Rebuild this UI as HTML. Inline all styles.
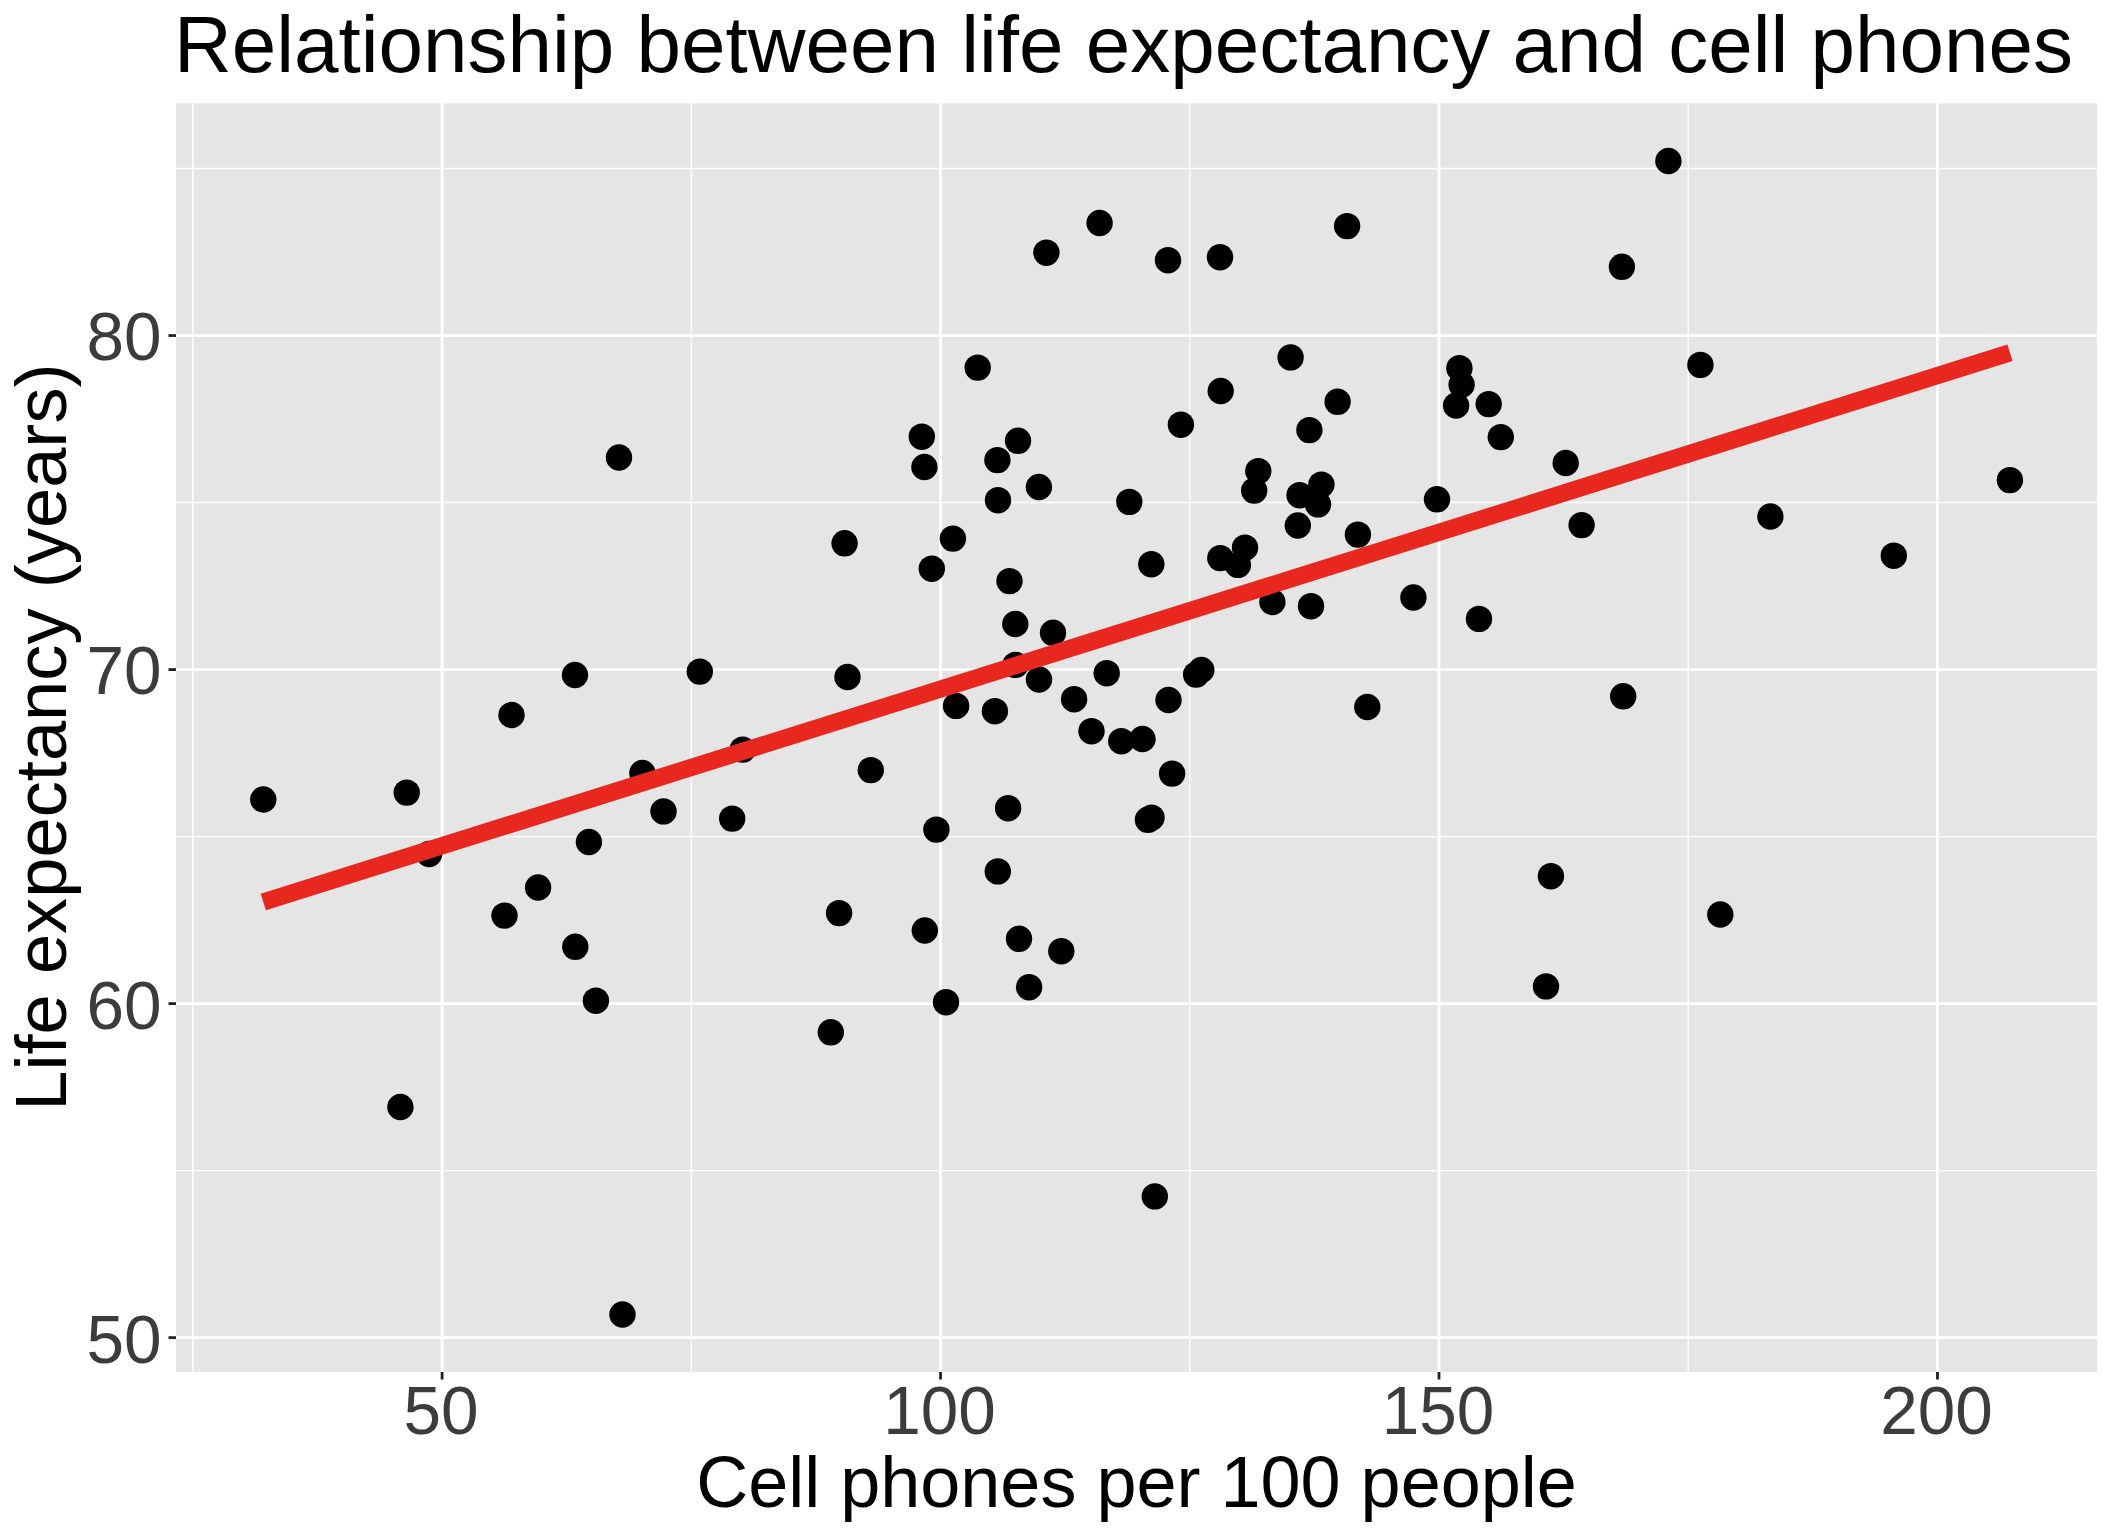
<!DOCTYPE html>
<html><head><meta charset="utf-8"><title>Relationship between life expectancy and cell phones</title>
<style>
html,body{margin:0;padding:0;background:#fff;}
body{width:2112px;height:1536px;overflow:hidden;}
svg{display:block;font-family:'Liberation Sans', Arial, Helvetica, sans-serif;}
</style></head>
<body>
<svg width="2112" height="1536" viewBox="0 0 2112 1536">
<rect width="2112" height="1536" fill="#fff"/>
<rect x="176.0" y="103.3" width="1921.00" height="1268.70" fill="#E5E5E5"/>
<line x1="192.88" y1="103.3" x2="192.88" y2="1372.0" stroke="#fff" stroke-width="1.4"/>
<line x1="691.33" y1="103.3" x2="691.33" y2="1372.0" stroke="#fff" stroke-width="1.4"/>
<line x1="1189.78" y1="103.3" x2="1189.78" y2="1372.0" stroke="#fff" stroke-width="1.4"/>
<line x1="1688.22" y1="103.3" x2="1688.22" y2="1372.0" stroke="#fff" stroke-width="1.4"/>
<line x1="176.0" y1="1170.62" x2="2097.0" y2="1170.62" stroke="#fff" stroke-width="1.4"/>
<line x1="176.0" y1="836.60" x2="2097.0" y2="836.60" stroke="#fff" stroke-width="1.4"/>
<line x1="176.0" y1="502.56" x2="2097.0" y2="502.56" stroke="#fff" stroke-width="1.4"/>
<line x1="176.0" y1="168.54" x2="2097.0" y2="168.54" stroke="#fff" stroke-width="1.4"/>
<line x1="442.10" y1="103.3" x2="442.10" y2="1372.0" stroke="#fff" stroke-width="2.8"/>
<line x1="940.55" y1="103.3" x2="940.55" y2="1372.0" stroke="#fff" stroke-width="2.8"/>
<line x1="1439.00" y1="103.3" x2="1439.00" y2="1372.0" stroke="#fff" stroke-width="2.8"/>
<line x1="1937.45" y1="103.3" x2="1937.45" y2="1372.0" stroke="#fff" stroke-width="2.8"/>
<line x1="176.0" y1="1337.64" x2="2097.0" y2="1337.64" stroke="#fff" stroke-width="2.8"/>
<line x1="176.0" y1="1003.61" x2="2097.0" y2="1003.61" stroke="#fff" stroke-width="2.8"/>
<line x1="176.0" y1="669.58" x2="2097.0" y2="669.58" stroke="#fff" stroke-width="2.8"/>
<line x1="176.0" y1="335.55" x2="2097.0" y2="335.55" stroke="#fff" stroke-width="2.8"/>
<g fill="#000">
<circle cx="263.3" cy="799.5" r="13.2"/>
<circle cx="400.4" cy="1107.0" r="13.2"/>
<circle cx="406.7" cy="792.6" r="13.2"/>
<circle cx="429.1" cy="854.0" r="13.2"/>
<circle cx="504.5" cy="915.6" r="13.2"/>
<circle cx="511.5" cy="715.0" r="13.2"/>
<circle cx="538.1" cy="887.5" r="13.2"/>
<circle cx="575.0" cy="675.0" r="13.2"/>
<circle cx="575.3" cy="946.8" r="13.2"/>
<circle cx="588.9" cy="842.0" r="13.2"/>
<circle cx="595.9" cy="1000.7" r="13.2"/>
<circle cx="619.0" cy="457.5" r="13.2"/>
<circle cx="622.5" cy="1314.5" r="13.2"/>
<circle cx="642.4" cy="773.0" r="13.2"/>
<circle cx="663.5" cy="811.4" r="13.2"/>
<circle cx="699.8" cy="671.6" r="13.2"/>
<circle cx="732.2" cy="818.6" r="13.2"/>
<circle cx="742.7" cy="749.6" r="13.2"/>
<circle cx="830.8" cy="1032.3" r="13.2"/>
<circle cx="839.1" cy="913.1" r="13.2"/>
<circle cx="844.6" cy="543.3" r="13.2"/>
<circle cx="847.5" cy="677.0" r="13.2"/>
<circle cx="870.8" cy="770.1" r="13.2"/>
<circle cx="921.8" cy="436.7" r="13.2"/>
<circle cx="924.4" cy="467.0" r="13.2"/>
<circle cx="924.8" cy="930.5" r="13.2"/>
<circle cx="931.8" cy="568.7" r="13.2"/>
<circle cx="936.4" cy="829.6" r="13.2"/>
<circle cx="946.0" cy="1002.2" r="13.2"/>
<circle cx="952.9" cy="538.6" r="13.2"/>
<circle cx="956.1" cy="705.9" r="13.2"/>
<circle cx="977.7" cy="367.6" r="13.2"/>
<circle cx="994.9" cy="711.2" r="13.2"/>
<circle cx="997.4" cy="460.1" r="13.2"/>
<circle cx="997.8" cy="871.4" r="13.2"/>
<circle cx="998.0" cy="500.2" r="13.2"/>
<circle cx="1008.1" cy="808.2" r="13.2"/>
<circle cx="1009.5" cy="581.1" r="13.2"/>
<circle cx="1015.3" cy="624.0" r="13.2"/>
<circle cx="1015.5" cy="664.9" r="13.2"/>
<circle cx="1018.0" cy="440.8" r="13.2"/>
<circle cx="1019.0" cy="938.8" r="13.2"/>
<circle cx="1029.1" cy="987.2" r="13.2"/>
<circle cx="1038.9" cy="487.0" r="13.2"/>
<circle cx="1039.0" cy="679.5" r="13.2"/>
<circle cx="1046.4" cy="252.7" r="13.2"/>
<circle cx="1053.0" cy="632.8" r="13.2"/>
<circle cx="1061.3" cy="951.2" r="13.2"/>
<circle cx="1074.1" cy="699.2" r="13.2"/>
<circle cx="1091.5" cy="731.2" r="13.2"/>
<circle cx="1099.6" cy="223.0" r="13.2"/>
<circle cx="1106.7" cy="673.2" r="13.2"/>
<circle cx="1121.3" cy="741.2" r="13.2"/>
<circle cx="1129.3" cy="501.9" r="13.2"/>
<circle cx="1142.5" cy="739.0" r="13.2"/>
<circle cx="1147.9" cy="819.8" r="13.2"/>
<circle cx="1151.3" cy="564.2" r="13.2"/>
<circle cx="1151.5" cy="817.6" r="13.2"/>
<circle cx="1154.8" cy="1196.4" r="13.2"/>
<circle cx="1168.0" cy="260.2" r="13.2"/>
<circle cx="1168.5" cy="700.0" r="13.2"/>
<circle cx="1172.1" cy="773.6" r="13.2"/>
<circle cx="1180.9" cy="424.7" r="13.2"/>
<circle cx="1196.1" cy="674.6" r="13.2"/>
<circle cx="1201.3" cy="670.0" r="13.2"/>
<circle cx="1220.0" cy="257.2" r="13.2"/>
<circle cx="1220.7" cy="391.0" r="13.2"/>
<circle cx="1220.3" cy="558.1" r="13.2"/>
<circle cx="1237.9" cy="564.9" r="13.2"/>
<circle cx="1245.0" cy="547.7" r="13.2"/>
<circle cx="1254.2" cy="490.6" r="13.2"/>
<circle cx="1258.3" cy="471.1" r="13.2"/>
<circle cx="1272.4" cy="602.0" r="13.2"/>
<circle cx="1290.6" cy="357.4" r="13.2"/>
<circle cx="1297.8" cy="525.5" r="13.2"/>
<circle cx="1299.6" cy="495.2" r="13.2"/>
<circle cx="1309.4" cy="430.1" r="13.2"/>
<circle cx="1311.0" cy="606.2" r="13.2"/>
<circle cx="1318.0" cy="504.4" r="13.2"/>
<circle cx="1321.4" cy="484.6" r="13.2"/>
<circle cx="1337.6" cy="401.8" r="13.2"/>
<circle cx="1347.1" cy="226.1" r="13.2"/>
<circle cx="1357.9" cy="534.6" r="13.2"/>
<circle cx="1367.3" cy="707.0" r="13.2"/>
<circle cx="1413.4" cy="597.5" r="13.2"/>
<circle cx="1437.0" cy="499.3" r="13.2"/>
<circle cx="1456.1" cy="405.5" r="13.2"/>
<circle cx="1459.4" cy="368.2" r="13.2"/>
<circle cx="1461.6" cy="384.7" r="13.2"/>
<circle cx="1479.0" cy="618.9" r="13.2"/>
<circle cx="1488.7" cy="404.1" r="13.2"/>
<circle cx="1500.8" cy="437.1" r="13.2"/>
<circle cx="1546.0" cy="986.4" r="13.2"/>
<circle cx="1550.9" cy="876.2" r="13.2"/>
<circle cx="1565.7" cy="463.0" r="13.2"/>
<circle cx="1581.6" cy="525.1" r="13.2"/>
<circle cx="1621.9" cy="266.8" r="13.2"/>
<circle cx="1623.2" cy="696.3" r="13.2"/>
<circle cx="1668.4" cy="161.0" r="13.2"/>
<circle cx="1700.4" cy="364.9" r="13.2"/>
<circle cx="1720.3" cy="914.5" r="13.2"/>
<circle cx="1770.4" cy="516.5" r="13.2"/>
<circle cx="1893.8" cy="555.7" r="13.2"/>
<circle cx="2009.9" cy="480.1" r="13.2"/>
</g>
<line x1="263.3" y1="902.01" x2="2010.0" y2="352.79" stroke="#E8281E" stroke-width="17.3" stroke-linecap="butt"/>
<line x1="168.50" y1="1337.64" x2="176.0" y2="1337.64" stroke="#222222" stroke-width="2.8"/>
<line x1="168.50" y1="1003.61" x2="176.0" y2="1003.61" stroke="#222222" stroke-width="2.8"/>
<line x1="168.50" y1="669.58" x2="176.0" y2="669.58" stroke="#222222" stroke-width="2.8"/>
<line x1="168.50" y1="335.55" x2="176.0" y2="335.55" stroke="#222222" stroke-width="2.8"/>
<line x1="442.10" y1="1372.0" x2="442.10" y2="1379.50" stroke="#222222" stroke-width="2.8"/>
<line x1="940.55" y1="1372.0" x2="940.55" y2="1379.50" stroke="#222222" stroke-width="2.8"/>
<line x1="1439.00" y1="1372.0" x2="1439.00" y2="1379.50" stroke="#222222" stroke-width="2.8"/>
<line x1="1937.45" y1="1372.0" x2="1937.45" y2="1379.50" stroke="#222222" stroke-width="2.8"/>
<text transform="translate(161.5 1362.54) scale(1 1.01)" text-anchor="end" font-size="67.5" fill="#3C3C3C">50</text>
<text transform="translate(161.5 1028.51) scale(1 1.01)" text-anchor="end" font-size="67.5" fill="#3C3C3C">60</text>
<text transform="translate(161.5 694.48) scale(1 1.01)" text-anchor="end" font-size="67.5" fill="#3C3C3C">70</text>
<text transform="translate(161.5 360.45) scale(1 1.01)" text-anchor="end" font-size="67.5" fill="#3C3C3C">80</text>
<text transform="translate(441.10 1434.3) scale(1 1.01)" text-anchor="middle" font-size="67.5" fill="#3C3C3C">50</text>
<text transform="translate(939.55 1434.3) scale(1 1.01)" text-anchor="middle" font-size="67.5" fill="#3C3C3C">100</text>
<text transform="translate(1438.00 1434.3) scale(1 1.01)" text-anchor="middle" font-size="67.5" fill="#3C3C3C">150</text>
<text transform="translate(1936.45 1434.3) scale(1 1.01)" text-anchor="middle" font-size="67.5" fill="#3C3C3C">200</text>
<text x="1136.5" y="1507" text-anchor="middle" font-size="72.0" fill="#000">Cell phones per 100 people</text>
<text transform="translate(65.8 737.05) rotate(-90)" x="0" y="0" text-anchor="middle" font-size="72.3" fill="#000">Life expectancy (years)</text>
<text x="174" y="72" font-size="80.0" fill="#000">Relationship between life expectancy and cell phones</text>
</svg>
</body></html>
